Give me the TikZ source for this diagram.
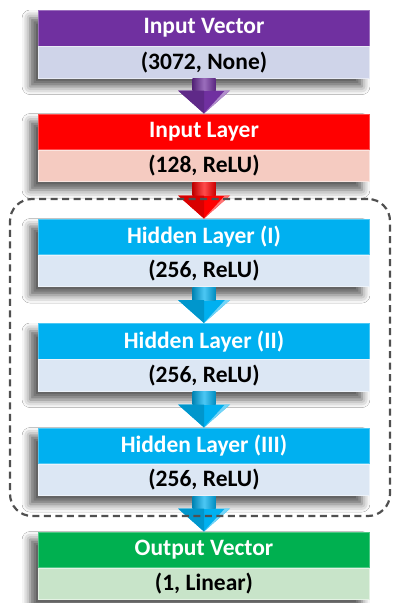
\documentclass[tikz,border=0pt]{standalone}
\usepackage{fontspec}
\setmainfont{Carlito}
\usetikzlibrary{arrows.meta,shadows.blur,backgrounds,fit,calc}
\definecolor{cPur}{HTML}{7030A0}
\definecolor{cPurB}{HTML}{CFD4E9}
\definecolor{cRed}{HTML}{FF0000}
\definecolor{cRedB}{HTML}{F5CBC1}
\definecolor{cBlu}{HTML}{00B0F0}
\definecolor{cBluB}{HTML}{DCE7F4}
\definecolor{cGrn}{HTML}{00B050}
\definecolor{cGrnB}{HTML}{C8E4C9}
\definecolor{cDash}{HTML}{505050}
\newcommand\flowarrow[3]{%
  \fill[#3] ($(#1.south)+(-11.5,0)$) -- ($(#2.north)+(-11.5,23)$) -- ($(#2.north)+(-26,23)$) -- (#2.north)
     -- ($(#2.north)+(26,23)$) -- ($(#2.north)+(11.5,23)$) -- ($(#1.south)+(11.5,0)$) -- cycle;
  \shade[left color=#3!75!black, right color=#3!80!black, middle color=#3!70!white]
     ($(#1.south)+(-11.5,0)$) rectangle ($(#2.north)+(11.5,23)$);
  \fill[#3!55!white] ($(#2.north)+(26,23)$) -- (#2.north) -- ($(#2.north)+(21,23)$) -- cycle;
  \fill[#3!85!black] ($(#2.north)+(-26,23)$) -- (#2.north) -- ($(#2.north)+(0,23)$) -- cycle;
}
\begin{document}
\begin{tikzpicture}[x=1pt,y=1pt,
  hdr/.style={minimum width=331pt, minimum height=35.5pt, inner sep=0pt, anchor=north,
    text=white, line width=0.8pt, font=\fontsize{23.5}{26}\selectfont\bfseries},
  bdy/.style={minimum width=331pt, minimum height=31.5pt, inner sep=0pt, anchor=north,
    text=black, line width=0.8pt, font=\fontsize{23.5}{26}\selectfont\bfseries},
  shadowbox/.style={fill=white, inner sep=0pt,
    blur shadow={shadow xshift=-8pt, shadow yshift=-8pt, shadow blur radius=8pt, shadow opacity=65}},
  groupbox/.style={draw=cDash, line width=2.2pt, dash pattern=on 7pt off 4.5pt, rounded corners=22pt}
]
\useasboundingbox (0,0) rectangle (392,-603);

\node[hdr, fill=cPur, draw=cPur!70!white] (ivh) at (204,-10) {Input Vector};
\node[bdy, fill=cPurB, draw=cPurB!50!white] (ivb) at (ivh.south) {(3072, None)};

\node[hdr, fill=cRed, draw=cRed!70!white] (ilh) at (204,-113.5) {Input Layer};
\node[bdy, fill=cRedB, draw=cRedB!50!white] (ilb) at (ilh.south) {(128, ReLU)};

\node[hdr, fill=cBlu, draw=cBlu!70!white] (h1h) at (204,-218.5) {Hidden Layer (I)};
\node[bdy, fill=cBluB, draw=cBluB!50!white] (h1b) at (h1h.south) {(256, ReLU)};

\node[hdr, fill=cBlu, draw=cBlu!70!white] (h2h) at (204,-323) {Hidden Layer (II)};
\node[bdy, fill=cBluB, draw=cBluB!50!white] (h2b) at (h2h.south) {(256, ReLU)};

\node[hdr, fill=cBlu, draw=cBlu!70!white] (h3h) at (204,-427.5) {Hidden Layer (III)};
\node[bdy, fill=cBluB, draw=cBluB!50!white] (h3b) at (h3h.south) {(256, ReLU)};

\node[hdr, fill=cGrn, draw=cGrn!70!white] (ovh) at (204,-531.5) {Output Vector};
\node[bdy, fill=cGrnB, draw=cGrnB!50!white] (ovb) at (ovh.south) {(1, Linear)};

\begin{scope}[on background layer]
  \fill[white] (0,0) rectangle (392,-603);
  \node[shadowbox, fit=(ivh)(ivb)] (ivs) {};
  \node[shadowbox, fit=(ilh)(ilb)] (ils) {};
  \node[shadowbox, fit=(h1h)(h1b)] (h1s) {};
  \node[shadowbox, fit=(h2h)(h2b)] (h2s) {};
  \node[shadowbox, fit=(h3h)(h3b)] (h3s) {};
  \node[shadowbox, fit=(ovh)(ovb)] (ovs) {};
\end{scope}

\flowarrow{ivb}{ilh}{cPur}
\flowarrow{ilb}{h1h}{cRed}
\flowarrow{h1b}{h2h}{cBlu}
\flowarrow{h2b}{h3h}{cBlu}
\flowarrow{h3b}{ovh}{cBlu}

\node[groupbox, fit={(10,-199) (390,-516)}, inner sep=0pt] (grp) {};
\end{tikzpicture}
\end{document}
